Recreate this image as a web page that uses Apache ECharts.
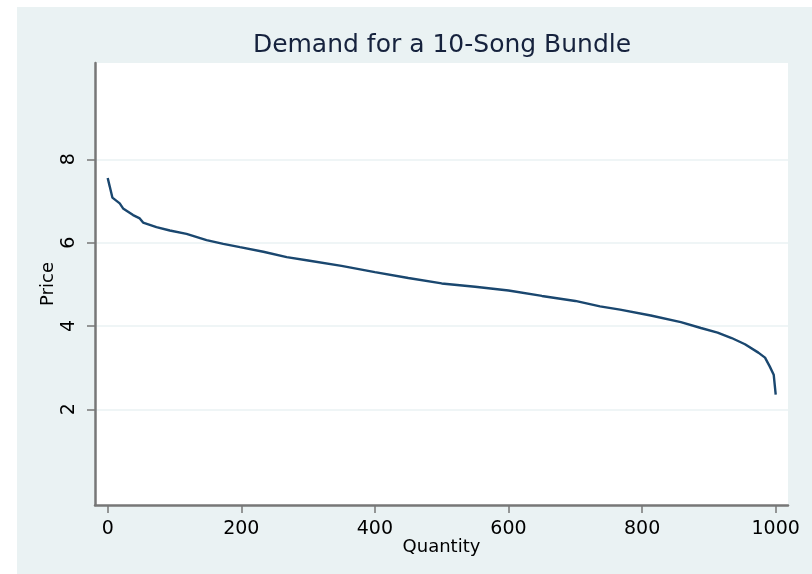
<!DOCTYPE html>
<html>
<head>
<meta charset="utf-8">
<script src="https://cdn.jsdelivr.net/npm/echarts@6/dist/echarts.min.js"></script>
<style>html,body{margin:0;padding:0;background:#fff}#c{width:812px;height:574px}</style>
</head>
<body>
<div id="c"></div>
<script>
const quantity = [0, 3, 7, 18, 23, 38, 48, 53, 73, 93, 118, 148, 173, 198, 233, 268, 300, 350, 400, 450, 500, 550, 600, 650, 700, 737, 767, 813, 858, 888, 913, 934, 954, 974, 984, 991, 997, 1000];
const price = [7.55, 7.35, 7.08, 6.94, 6.82, 6.66, 6.58, 6.48, 6.37, 6.29, 6.21, 6.06, 5.97, 5.89, 5.78, 5.65, 5.57, 5.44, 5.29, 5.15, 5.02, 4.94, 4.85, 4.72, 4.60, 4.47, 4.39, 4.25, 4.09, 3.95, 3.84, 3.71, 3.56, 3.36, 3.24, 3.03, 2.83, 2.35];
const xTicks = [0, 200, 400, 600, 800, 1000];
const yTicks = [2, 4, 6, 8];
const titleText = 'Demand for a 10-Song Bundle';
const xName = 'Quantity';
const yName = 'Price';

const chart = echarts.init(document.getElementById('c'), null, {renderer: 'canvas'});
const font = 'DejaVu Sans';
const axisGray = '#777777';
chart.setOption({
  animation: false,
  backgroundColor: '#ffffff',
  graphic: [{
    type: 'rect', z: -10, silent: true,
    shape: {x: 17, y: 7, width: 800, height: 570},
    style: {fill: '#eaf2f3'}
  }],
  title: {
    text: titleText,
    left: 437, top: 28, textAlign: 'center',
    textStyle: {fontFamily: font, fontSize: 25, fontWeight: 'normal', color: '#16223d'}
  },
  grid: {
    left: 95, top: 63, right: 24, bottom: 69,
    show: true, backgroundColor: '#ffffff', borderWidth: 0
  },
  xAxis: {
    type: 'value', min: -19, max: 1018.4,
    name: xName, nameLocation: 'middle', nameGap: 33, nameMoveOverlap: false,
    nameTextStyle: {fontFamily: font, fontSize: 18, color: '#000'},
    axisLine: {show: true, onZero: false, lineStyle: {color: axisGray, width: 2.5}},
    axisTick: {show: true, length: 8, customValues: xTicks, lineStyle: {color: axisGray, width: 1.5}},
    axisLabel: {customValues: xTicks, margin: 15, fontFamily: font, fontSize: 19, color: '#000', formatter: v => String(v)},
    splitLine: {show: false}
  },
  yAxis: {
    type: 'value', min: -0.297, max: 10.31,
    name: yName, nameLocation: 'middle', nameGap: 38, nameRotate: 90, nameMoveOverlap: false,
    nameTextStyle: {fontFamily: font, fontSize: 18, color: '#000'},
    axisLine: {show: true, onZero: false, lineStyle: {color: axisGray, width: 2.5}},
    axisTick: {show: true, length: 8, customValues: yTicks, lineStyle: {color: axisGray, width: 1.5}},
    axisLabel: {customValues: yTicks, rotate: 90, margin: 16, fontFamily: font, fontSize: 19, color: '#000', formatter: v => String(v)},
    splitLine: {show: true, lineStyle: {color: '#eaf2f3', width: 1.5}}
  },
  series: [{
    type: 'line',
    data: quantity.map((q, i) => [q, price[i]]),
    showSymbol: false,
    lineStyle: {color: '#1a476f', width: 2.4},
    itemStyle: {color: '#1a476f'}
  }]
});
</script>
</body>
</html>
